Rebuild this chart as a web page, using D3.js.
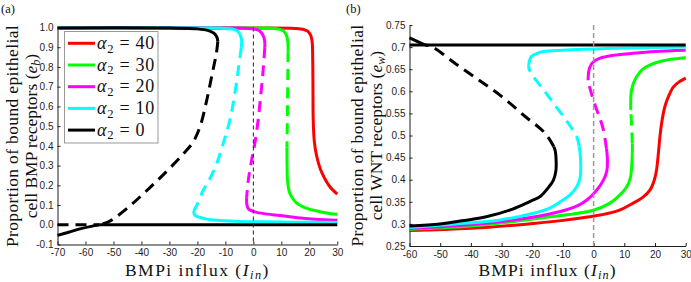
<!DOCTYPE html>
<html>
<head>
<meta charset="utf-8">
<script src="https://cdn.jsdelivr.net/npm/d3@7"></script>
<style>
  html, body { margin: 0; padding: 0; background: #fff; }
  svg { display: block; }
  .serif { font-family: 'Liberation Serif', 'DejaVu Serif', serif; }
  .sans { font-family: 'Liberation Sans', Arial, sans-serif; }
</style>
</head>
<body>
<svg id="chart" width="691" height="282"></svg>
<script>
// ==================== DATA ====================
// bifurcation parameter I_in, one curve set per alpha_2 value
const alphaValues = [40, 30, 20, 10, 0];
const alphaColors = { 40: '#ff0000', 30: '#00ff00', 20: '#ff00ff', 10: '#00ffff', 0: '#000000' };

const xTicksA = [-70, -60, -50, -40, -30, -20, -10, 0, 10, 20, 30];
const yTicksA = [-0.1, 0, 0.1, 0.2, 0.3, 0.4, 0.5, 0.6, 0.7, 0.8, 0.9, 1.0];
const xTicksB = [-60, -50, -40, -30, -20, -10, 0, 10, 20, 30];
const yTicksB = [0.25, 0.3, 0.35, 0.4, 0.45, 0.5, 0.55, 0.6, 0.65, 0.7, 0.75];

// (a) e_b : stable branches solid, unstable branches dashed
const eb40 = {
  stable: [[[-70, 0.998], [0, 0.997], [15, 0.995], [18, 0.99], [19.5, 0.98], [20.5, 0.96], [21, 0.93], [21.2, 0.85],
    [21.3, 0.7], [21.4, 0.53], [21.8, 0.42], [22.6, 0.35], [24, 0.28], [25.5, 0.235], [27.5, 0.19], [30, 0.155]]],
  unstable: []
};
const eb30 = {
  stable: [
    [[-70, 0.998], [0, 0.997], [8, 0.995], [10.5, 0.985], [11.7, 0.965], [12.3, 0.93], [12.4, 0.88]],
    [[12.0, 0.39], [12.05, 0.3], [12.2, 0.226], [12.8, 0.17], [13.7, 0.141], [15.5, 0.11], [17.9, 0.09], [22, 0.072], [26, 0.06], [30, 0.053]]
  ],
  unstable: [[[12.4, 0.88], [12.2, 0.6], [12.0, 0.39]]]
};
const eb20 = {
  stable: [
    [[-70, 0.998], [-5, 0.997], [0, 0.993], [2, 0.985], [3.3, 0.965], [4.0, 0.935], [4.1, 0.9]],
    [[-2.4, 0.14], [-2.3, 0.1], [-1.6, 0.078], [0, 0.068], [1.2, 0.063], [5, 0.054], [9.5, 0.047], [15, 0.037], [22, 0.028], [30, 0.023]]
  ],
  unstable: [[[4.1, 0.9], [3.5, 0.785], [2.6, 0.65], [1.7, 0.53], [0.5, 0.41], [-0.6, 0.33], [-1.8, 0.226], [-2.4, 0.14]]]
};
const eb10 = {
  stable: [
    [[-70, 0.998], [-12, 0.997], [-8, 0.993], [-6, 0.985], [-4.8, 0.965], [-4.2, 0.935], [-4.3, 0.9]],
    [[-21.3, 0.07], [-21, 0.05], [-19.7, 0.04], [-17, 0.03], [-14.3, 0.024], [-5, 0.017], [3.5, 0.015], [15, 0.013], [30, 0.012]]
  ],
  unstable: [[[-4.3, 0.9], [-5.4, 0.785], [-6.8, 0.65], [-8.4, 0.53], [-10.6, 0.42], [-13.1, 0.31], [-15.5, 0.235],
    [-17.9, 0.175], [-20.2, 0.1], [-21.3, 0.07]]]
};
const eb0 = {
  stable: [
    [[-70, 0.998], [-30, 0.997], [-20, 0.993], [-16, 0.984], [-14, 0.97], [-13, 0.95], [-12.7, 0.93]],
    [[-70, -0.054], [-66, -0.038], [-62, -0.021], [-58, -0.008], [-55, 0]],
    [[-55, 0], [30, 0]]
  ],
  unstable: [
    [[-12.7, 0.93], [-13.2, 0.87], [-14.2, 0.8], [-15.5, 0.71], [-17, 0.61], [-19, 0.5], [-21.5, 0.42], [-25, 0.36],
      [-30, 0.285], [-35, 0.215], [-40, 0.148], [-45, 0.085], [-50, 0.03], [-52, 0.014], [-55, 0]],
    [[-70, 0], [-55, 0]]
  ]
};

// (b) e_w
const ew40 = {
  stable: [[[-60, 0.285], [-40, 0.29], [-19.6, 0.301], [-10, 0.308], [2.1, 0.32], [8, 0.33], [12.9, 0.347], [16, 0.36],
    [18.4, 0.377], [19.8, 0.4], [20.5, 0.422], [21.1, 0.46], [21.6, 0.497], [22.2, 0.53], [23.2, 0.565], [24.5, 0.59],
    [26, 0.61], [28, 0.622], [30, 0.63]]],
  unstable: []
};
const ew30 = {
  stable: [
    [[-60, 0.288], [-40, 0.295], [-14.2, 0.316], [-0.1, 0.331], [5.3, 0.347], [8.5, 0.365], [10.8, 0.384], [12, 0.405],
      [12.4, 0.43], [12.6, 0.46], [12.6, 0.482]],
    [[12.1, 0.558], [12.2, 0.595], [12.8, 0.615], [14, 0.633], [16, 0.65], [18.4, 0.66], [22, 0.668], [26, 0.673], [30, 0.676]]
  ],
  unstable: [[[12.6, 0.482], [12.4, 0.52], [12.1, 0.558]]]
};
const ew20 = {
  stable: [
    [[-60, 0.29], [-45, 0.296], [-30.5, 0.305], [-20, 0.315], [-10.9, 0.328], [-5, 0.342], [-2.2, 0.354], [0.5, 0.372],
      [3.2, 0.399], [4.3, 0.42], [4.5, 0.445], [4.2, 0.47]],
    [[-1.8, 0.625], [-1.6, 0.645], [-1.0, 0.658], [0, 0.667], [2.1, 0.675], [6, 0.681], [12.9, 0.686], [20, 0.69], [30, 0.693]]
  ],
  unstable: [[[4.2, 0.47], [3.2, 0.512], [2, 0.54], [1.0, 0.558], [-0.5, 0.59], [-1.5, 0.615], [-1.8, 0.625]]]
};
const ew10 = {
  stable: [
    [[-60, 0.292], [-45, 0.3], [-30.5, 0.309], [-19.6, 0.324], [-14, 0.337], [-10.9, 0.35], [-7.5, 0.367], [-5.5, 0.384],
      [-4.4, 0.405], [-4.2, 0.429], [-4.4, 0.46], [-4.7, 0.475]],
    [[-21.2, 0.658], [-20.8, 0.672], [-20.1, 0.68], [-18, 0.687], [-16.4, 0.69], [-10, 0.693], [-3.4, 0.695], [10, 0.698], [30, 0.7]]
  ],
  unstable: [[[-4.7, 0.475], [-5.5, 0.497], [-9, 0.535], [-13.1, 0.573], [-16.5, 0.605], [-19.6, 0.633], [-21.0, 0.65], [-21.2, 0.658]]]
};
const ew0 = {
  stable: [
    [[-60, 0.295], [-50, 0.3], [-42.9, 0.307], [-35, 0.316], [-26.6, 0.333], [-21, 0.35], [-17.4, 0.362], [-15, 0.38],
      [-13.1, 0.399], [-12.3, 0.42], [-12.2, 0.437], [-12.5, 0.465], [-13, 0.475]],
    [[-60, 0.721], [-55, 0.705]],
    [[-60, 0.705], [30, 0.705]]
  ],
  unstable: [[[-13, 0.475], [-15.8, 0.505], [-22.3, 0.543], [-29.9, 0.588], [-37.5, 0.626], [-45.1, 0.663], [-52.7, 0.701], [-55, 0.705]]]
};

const ebSeries = { 40: eb40, 30: eb30, 20: eb20, 10: eb10, 0: eb0 };
const ewSeries = { 40: ew40, 30: ew30, 20: ew20, 10: ew10, 0: ew0 };

// ==================== SETUP ====================
const svg = d3.select('#chart');
const axisColor = '#1e1e1e';
const textColor = '#111';

// espacia las letras para que el texto ocupe el ancho objetivo (la fuente LaTeX es más ancha)
const fitSpacing = (sel, target) => {
  const w = sel.node().getComputedTextLength();
  const n = sel.text().length;
  const ls = Math.max(0, (target - w) / n);
  sel.style('letter-spacing', ls + 'px');
  return ls;
};

// texto con subindice: parts = [[texto, italic, sub], ...]
const richText = (parent, parts, size) => {
  const t = parent.append('text').attr('class', 'serif').attr('fill', textColor).style('font-size', size + 'px');
  let wasSub = false;
  parts.forEach(([str, italic, sub]) => {
    const ts = t.append('tspan').text(str);
    if (italic) ts.style('font-style', 'italic');
    if (sub) ts.style('font-size', '0.7em').attr('dy', '0.3em');
    else if (wasSub) ts.attr('dy', '-0.21em');
    wasSub = !!sub;
  });
  return t;
};

const drawPanel = ({ series, xDomain, xRange, yDomain, yRange, xTicks, yTicks, yFormat, zeroLine, label, yLabel2, yVar, offsetX, xLabelWidth }) => {
  const x = d3.scaleLinear().domain(xDomain).range(xRange);
  const y = d3.scaleLinear().domain(yDomain).range(yRange);
  const g = svg.append('g');

  // ejes
  const xAxis = g.append('g')
    .attr('transform', `translate(0,${y.range()[0]})`)
    .call(d3.axisBottom(x).tickValues(xTicks).tickSizeInner(-3).tickSizeOuter(0).tickPadding(4.5)
      .tickFormat(d => String(d)));
  const yAxis = g.append('g')
    .attr('transform', `translate(${x.range()[0]},0)`)
    .call(d3.axisLeft(y).tickValues(yTicks).tickSizeInner(-3).tickSizeOuter(0).tickPadding(4)
      .tickFormat(yFormat));
  [xAxis, yAxis].forEach(a => {
    a.attr('font-family', null).attr('font-size', null);
    a.select('.domain').attr('stroke', axisColor);
    a.selectAll('.tick line').attr('stroke', axisColor);
    a.selectAll('.tick text').attr('class', 'sans').attr('fill', axisColor).style('font-size', '10px');
  });

  // curvas
  const line = d3.line()
    .x(d => x(d[0]))
    .y(d => y(d[1]))
    .curve(d3.curveCatmullRom.alpha(0.5));

  alphaValues.forEach(a => {
    const s = series[a];
    s.stable.forEach(pts => {
      g.append('path')
        .attr('d', line(pts))
        .attr('fill', 'none')
        .attr('stroke', alphaColors[a])
        .attr('stroke-width', 3)
        .attr('stroke-linejoin', 'round');
    });
    s.unstable.forEach(pts => {
      g.append('path')
        .attr('d', line(pts))
        .attr('fill', 'none')
        .attr('stroke', alphaColors[a])
        .attr('stroke-width', 3)
        .attr('stroke-dasharray', '11,7');
    });
  });

  // linea I_in = 0
  g.append('line')
    .attr('x1', x(0)).attr('x2', x(0))
    .attr('y1', y.range()[1]).attr('y2', y.range()[0])
    .attr('stroke', zeroLine.color)
    .attr('stroke-width', zeroLine.width)
    .attr('stroke-dasharray', zeroLine.dash);

  // etiquetas
  const xl = richText(g, [['BMPi influx ('], ['I', true], ['in', true, true], [')']], 17.5)
    .attr('x', (xRange[0] + xRange[1]) / 2)
    .attr('y', 275.5)
    .attr('text-anchor', 'middle');
  fitSpacing(xl, xLabelWidth);

  const cy = (yRange[0] + yRange[1]) / 2;
  const yl1 = richText(g, [['Proportion of bound epithelial']], 17.5)
    .attr('transform', `translate(${offsetX + 18.3},${cy}) rotate(-90)`)
    .attr('text-anchor', 'middle');
  fitSpacing(yl1, 222);
  const yl2 = richText(g, [[yLabel2 + ' ('], ['e', true], [yVar, true, true], [')']], 17.5)
    .attr('transform', `translate(${offsetX + 36.5},${cy}) rotate(-90)`)
    .attr('text-anchor', 'middle');
  fitSpacing(yl2, 158);

  g.append('text')
    .attr('class', 'serif')
    .attr('x', offsetX + 1)
    .attr('y', 12.5)
    .style('font-size', '12.5px')
    .attr('fill', textColor)
    .text(label);

  return { x, y, g };
};

// ==================== PANEL (a) ====================
drawPanel({
  series: ebSeries,
  xDomain: [-70, 30], xRange: [57.5, 337.3],
  yDomain: [-0.1, 1], yRange: [244.5, 27.5],
  xTicks: xTicksA, yTicks: yTicksA,
  yFormat: d => d.toFixed(1),
  zeroLine: { color: '#222', width: 1, dash: '4,3' },
  label: '(a)', yLabel2: 'cell BMP receptors', yVar: 'b', offsetX: 0, xLabelWidth: 145
});

// ==================== PANEL (b) ====================
drawPanel({
  series: ewSeries,
  xDomain: [-60, 30], xRange: [409.5, 685.7],
  yDomain: [0.25, 0.75], yRange: [246, 25],
  xTicks: xTicksB, yTicks: yTicksB,
  yFormat: d => String(+d.toFixed(2)),
  zeroLine: { color: '#999', width: 1.5, dash: '5,3' },
  label: '(b)', yLabel2: 'cell WNT receptors', yVar: 'w', offsetX: 345, xLabelWidth: 138
});

// ==================== LEYENDA ====================
const legend = svg.append('g');
legend.append('rect')
  .attr('x', 64.5).attr('y', 31.5)
  .attr('width', 93.5).attr('height', 111.5)
  .attr('fill', '#fff')
  .attr('stroke', '#999')
  .attr('stroke-width', 1);

let legendSpacing = null;
alphaValues.forEach((a, i) => {
  const cy = 43.3 + i * 21.7;
  legend.append('line')
    .attr('x1', 68).attr('x2', 95)
    .attr('y1', cy).attr('y2', cy)
    .attr('stroke', alphaColors[a])
    .attr('stroke-width', 3);
  const t = richText(legend, [['α', true], ['2', false, true], [` = ${a}`]], 18)
    .attr('x', 97)
    .attr('y', cy + 5.5);
  if (legendSpacing === null) legendSpacing = fitSpacing(t, 58);
  else t.style('letter-spacing', legendSpacing + 'px');
});
</script>
</body>
</html>
